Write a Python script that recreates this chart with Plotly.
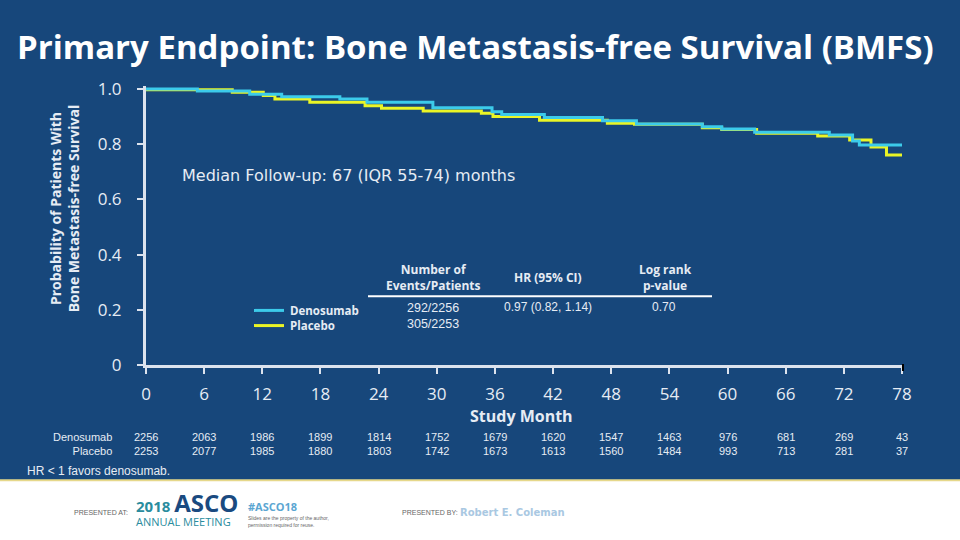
import plotly.graph_objects as go

# ---------------- data ----------------
months_deno = [0, 5.3, 10.7, 14.0, 20.0, 22.8, 29.6, 35.7, 36.7, 41.1, 47.1, 50.6, 57.4, 59.4, 62.8, 70.5, 72.9, 73.6, 78.0]
surv_deno = [1.0, 0.993, 0.981, 0.972, 0.964, 0.952, 0.932, 0.918, 0.908, 0.897, 0.885, 0.873, 0.863, 0.855, 0.843, 0.833, 0.812, 0.797, 0.797]

months_plac = [0, 8.9, 12.1, 13.3, 16.9, 22.6, 24.3, 28.6, 34.6, 35.8, 40.6, 47.6, 50.4, 57.4, 59.4, 63.0, 69.3, 72.6, 74.8, 76.4, 78.0]
surv_plac = [0.997, 0.988, 0.976, 0.964, 0.952, 0.939, 0.930, 0.920, 0.912, 0.900, 0.887, 0.876, 0.872, 0.860, 0.853, 0.840, 0.830, 0.815, 0.790, 0.761, 0.761]

tick_months = [0, 6, 12, 18, 24, 30, 36, 42, 48, 54, 60, 66, 72, 78]
y_ticks = [0, 0.2, 0.4, 0.6, 0.8, 1.0]
y_tick_labels = ["0", "0.2", "0.4", "0.6", "0.8", "1.0"]

risk_deno = [2256, 2063, 1986, 1899, 1814, 1752, 1679, 1620, 1547, 1463, 976, 681, 269, 43]
risk_plac = [2253, 2077, 1985, 1880, 1803, 1742, 1673, 1613, 1560, 1484, 993, 713, 281, 37]

series_names = ["Denosumab", "Placebo"]
events = ["292/2256", "305/2253"]
hr_text = "0.97 (0.82, 1.14)"
p_text = "0.70"

# ---------------- style ----------------
BG = "#17477B"
CYAN = "#3CCBEA"
YELLOW = "#EAF526"
AXIS = "#DCE3EE"
TXT = "#E6ECF4"

W, H = 960, 540
L, R, T, B = 146, 58, 86, 175
PW = W - L - R
PH_UNIT = 276  # pixels per 1.0 on y


def px(x):
    return (x - L) / PW


def py(y):
    return (365 - y) / PH_UNIT


fig = go.Figure()

fig.add_trace(go.Scatter(
    x=months_plac, y=surv_plac, mode="lines", line=dict(shape="hv", color=YELLOW, width=3),
    name=series_names[1], showlegend=False, hoverinfo="skip"))
fig.add_trace(go.Scatter(
    x=months_deno, y=surv_deno, mode="lines", line=dict(shape="hv", color=CYAN, width=3),
    name=series_names[0], showlegend=False, hoverinfo="skip"))

ytop = (H - T - B) / PH_UNIT

fig.update_layout(
    width=W, height=H,
    margin=dict(l=L, r=R, t=T, b=B),
    paper_bgcolor=BG, plot_bgcolor=BG,
    showlegend=False,
    xaxis=dict(range=[0, 78], tickvals=tick_months, ticktext=[str(m) for m in tick_months],
               showgrid=False, zeroline=False, showline=True, linecolor=AXIS, linewidth=3,
               ticks="outside", ticklen=6, tickwidth=2, tickcolor=AXIS,
               ticklabelstandoff=6,
               tickfont=dict(family="Open Sans", size=17, color=TXT)),
    yaxis=dict(range=[0, ytop], tickvals=y_ticks, ticktext=y_tick_labels,
               showgrid=False, zeroline=False, showline=True, linecolor=AXIS, linewidth=3,
               ticks="outside", ticklen=6, tickwidth=2, tickcolor=AXIS,
               ticklabelstandoff=12,
               tickfont=dict(family="Open Sans", size=17, color=TXT)),
)

ann = []
# title
ann.append(dict(x=px(475), y=py(50), xref="paper", yref="paper", text="<b>Primary Endpoint: Bone Metastasis-free Survival (BMFS)</b>",
                showarrow=False, font=dict(family="Open Sans", size=33, color="white"), xanchor="center", yanchor="middle"))
# y axis title
ann.append(dict(x=px(64), y=py(210), xref="paper", yref="paper",
                text="<b>Probability of Patients With<br>Bone Metastasis-free Survival</b>", textangle=-90,
                showarrow=False, font=dict(family="Open Sans", size=14, color=TXT), xanchor="center", yanchor="middle"))
# x axis title
ann.append(dict(x=px(521), y=py(415), xref="paper", yref="paper", text="<b>Study Month</b>",
                showarrow=False, font=dict(family="Open Sans", size=16, color=TXT), xanchor="center", yanchor="middle"))
# median follow-up
ann.append(dict(x=px(180), y=py(178), xref="paper", yref="paper", text="Median Follow-up: 67 (IQR 55-74) months",
                showarrow=False, font=dict(family="DejaVu Sans", size=16, color=TXT), xanchor="left", yanchor="middle"))

# legend table headers
hdr_font = dict(family="Open Sans", size=12, color=TXT)
ann.append(dict(x=px(433), y=py(278), xref="paper", yref="paper", text="<b>Number of<br>Events/Patients</b>",
                showarrow=False, font=hdr_font, xanchor="center", yanchor="middle"))
ann.append(dict(x=px(548), y=py(278), xref="paper", yref="paper", text="<b>HR (95% CI)</b>",
                showarrow=False, font=hdr_font, xanchor="center", yanchor="middle"))
ann.append(dict(x=px(665), y=py(278), xref="paper", yref="paper", text="<b>Log rank<br>p-value</b>",
                showarrow=False, font=hdr_font, xanchor="center", yanchor="middle"))
val_font = dict(family="Liberation Sans", size=12, color=TXT)
ann.append(dict(x=px(433), y=py(316.5), xref="paper", yref="paper", text=events[0] + "<br>" + events[1],
                showarrow=False, font=dict(family="Liberation Sans", size=12.5, color=TXT),
                xanchor="center", yanchor="middle", borderpad=0))
ann.append(dict(x=px(548), y=py(308), xref="paper", yref="paper", text=hr_text,
                showarrow=False, font=val_font, xanchor="center", yanchor="middle"))
ann.append(dict(x=px(664), y=py(308), xref="paper", yref="paper", text=p_text,
                showarrow=False, font=val_font, xanchor="center", yanchor="middle"))
ann.append(dict(x=px(289), y=py(318.5), xref="paper", yref="paper",
                text="<b>" + series_names[0] + "</b><br><b>" + series_names[1] + "</b>",
                showarrow=False, font=dict(family="Open Sans", size=11.5, color=TXT),
                xanchor="left", yanchor="middle", align="left", borderpad=0))

# number at risk
risk_font = dict(family="Liberation Sans", size=12, color=TXT)
ann.append(dict(x=px(113), y=py(443.5), xref="paper", yref="paper",
                text=series_names[0] + "<br>" + series_names[1],
                showarrow=False, font=dict(family="Liberation Sans", size=11, color=TXT),
                xanchor="right", yanchor="middle", align="right", borderpad=0))
for m, a, b in zip(tick_months, risk_deno, risk_plac):
    ann.append(dict(x=m, y=py(443.5), xref="x", yref="paper", text=str(a) + "<br>" + str(b), showarrow=False,
                    font=dict(family="Liberation Sans", size=11, color=TXT),
                    xanchor="center", yanchor="middle", borderpad=0))
ann.append(dict(x=px(25), y=py(470), xref="paper", yref="paper", text="HR < 1 favors denosumab.",
                showarrow=False, font=risk_font, xanchor="left", yanchor="middle"))

# footer
small_gray = dict(family="Liberation Sans", size=7, color="#666666")
ann.append(dict(x=px(72), y=py(511), xref="paper", yref="paper", text="PRESENTED AT:",
                showarrow=False, font=small_gray, xanchor="left", yanchor="middle"))
ann.append(dict(x=px(135), y=py(506), xref="paper", yref="paper",
                text="<b><span style='font-size:15px'>2018 </span><span style='font-size:24px;color:#1A4A80'>ASCO</span></b><br>ANNUAL MEETING",
                showarrow=False, font=dict(family="Open Sans", size=11, color="#2A8C9E"),
                xanchor="left", yanchor="middle", align="left", borderpad=0))
ann.append(dict(x=px(246), y=py(505), xref="paper", yref="paper", text="<b>#ASCO18</b>",
                showarrow=False, font=dict(family="Open Sans", size=11, color="#5BA6D2"), xanchor="left", yanchor="middle"))
ann.append(dict(x=px(246), y=py(520), xref="paper", yref="paper",
                text="Slides are the property of the author,<br>permission required for reuse.",
                showarrow=False, font=dict(family="Liberation Sans", size=5, color="#666666"), xanchor="left", yanchor="middle", align="left"))
ann.append(dict(x=px(400), y=py(511), xref="paper", yref="paper", text="PRESENTED BY:",
                showarrow=False, font=small_gray, xanchor="left", yanchor="middle"))
ann.append(dict(x=px(458), y=py(511), xref="paper", yref="paper", text="<b>Robert E. Coleman</b>",
                showarrow=False, font=dict(family="DejaVu Sans", size=10, color="#A9C8E2"), xanchor="left", yanchor="middle"))

fig.update_layout(annotations=ann)

shapes = [
    # white footer band
    dict(type="rect", xref="paper", yref="paper", x0=px(-5), x1=px(965), y0=py(479), y1=py(545),
         fillcolor="white", line=dict(width=0), layer="above"),
    dict(type="line", xref="paper", yref="paper", x0=px(-5), x1=px(965), y0=py(479), y1=py(479),
         line=dict(color="#E6D88A", width=2), layer="above"),
    # legend table rule
    dict(type="line", xref="paper", yref="paper", x0=px(368), x1=px(712), y0=py(297), y1=py(297),
         line=dict(color="white", width=2)),
    # legend sample lines
    dict(type="line", xref="paper", yref="paper", x0=px(254), x1=px(284), y0=py(311), y1=py(311),
         line=dict(color=CYAN, width=3)),
    dict(type="line", xref="paper", yref="paper", x0=px(254), x1=px(284), y0=py(326), y1=py(326),
         line=dict(color=YELLOW, width=3)),
    # end mark on x axis
    dict(type="line", xref="paper", yref="paper", x0=px(903), x1=px(903), y0=py(364), y1=py(371),
         line=dict(color="black", width=2)),
]
fig.update_layout(shapes=shapes)

fig.write_html("out.html", config={"displayModeBar": False},
               post_script="document.body.style.margin='0';document.body.style.padding='0';document.body.style.overflow='hidden';")
